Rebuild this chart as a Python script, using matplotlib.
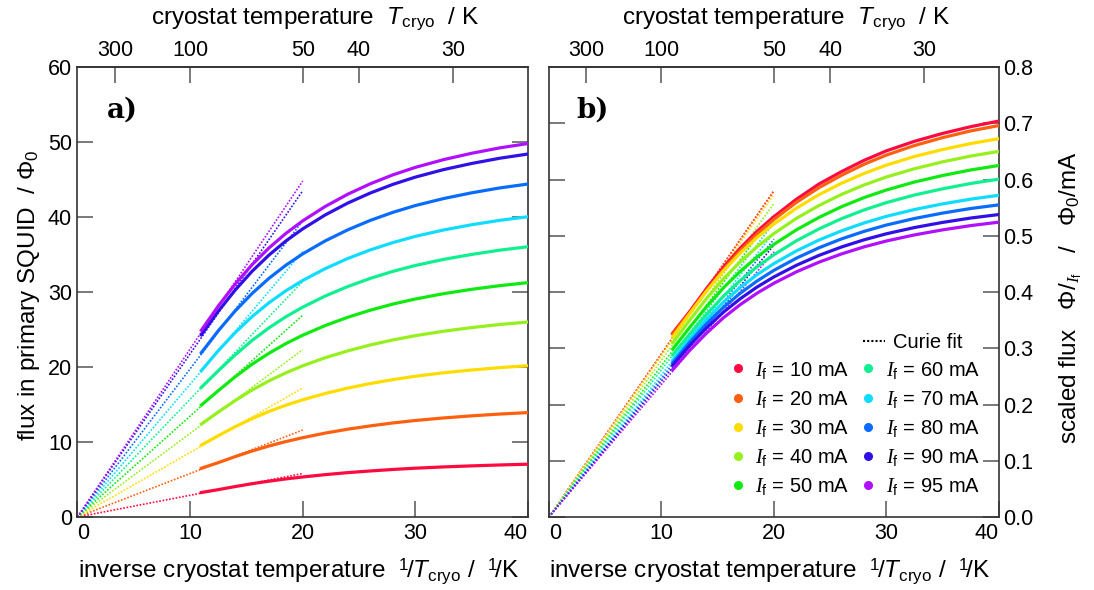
import numpy as np
import matplotlib
matplotlib.use('Agg')
import matplotlib.pyplot as plt
from matplotlib.lines import Line2D

# 字体: 正文无衬线, 公式里的斜体用衬线
plt.rcParams['font.family'] = ['Liberation Sans', 'DejaVu Sans']
plt.rcParams['mathtext.fontset'] = 'custom'
plt.rcParams['mathtext.rm'] = 'Liberation Sans'
plt.rcParams['mathtext.it'] = 'Liberation Serif:italic'
plt.rcParams['mathtext.sf'] = 'Liberation Sans:italic'
plt.rcParams['mathtext.bf'] = 'Liberation Sans:bold'

# 数据
currents_mA = [10, 20, 30, 40, 50, 60, 70, 80, 90, 95]
colors = ['#ff0a40', '#ff6010', '#ffdc00', '#96f01e', '#10ea10',
          '#10f090', '#10dcff', '#0a6cff', '#3010e6', '#b010ff']
inv_T = [11, 12.5, 14, 15.5, 17, 18.5, 20, 22, 24, 26, 28, 30, 32.5, 35, 37.5, 40]
flux = [
    [3.27, 3.65, 4.06, 4.44, 4.78, 5.08, 5.34, 5.65, 5.92, 6.14, 6.34, 6.51, 6.68, 6.82, 6.94, 7.04],
    [6.50, 7.25, 8.05, 8.80, 9.47, 10.06, 10.58, 11.19, 11.71, 12.15, 12.54, 12.87, 13.21, 13.49, 13.73, 13.92],
    [9.60, 10.84, 12.04, 13.12, 14.07, 14.91, 15.63, 16.47, 17.19, 17.80, 18.32, 18.77, 19.23, 19.60, 19.92, 20.18],
    [12.40, 13.99, 15.53, 16.93, 18.15, 19.22, 20.16, 21.24, 22.15, 22.94, 23.61, 24.18, 24.77, 25.26, 25.67, 26.00],
    [14.93, 16.84, 18.69, 20.37, 21.83, 23.12, 24.24, 25.53, 26.63, 27.58, 28.39, 29.07, 29.78, 30.36, 30.85, 31.25],
    [17.29, 19.49, 21.61, 23.54, 25.22, 26.70, 27.98, 29.47, 30.73, 31.82, 32.75, 33.54, 34.35, 35.01, 35.58, 36.04],
    [19.51, 22.17, 24.58, 26.72, 28.56, 30.16, 31.54, 33.12, 34.47, 35.61, 36.59, 37.42, 38.27, 38.97, 39.56, 40.04],
    [21.91, 24.83, 27.47, 29.80, 31.82, 33.57, 35.09, 36.82, 38.29, 39.55, 40.62, 41.53, 42.46, 43.23, 43.88, 44.40],
    [24.30, 27.43, 30.25, 32.76, 34.92, 36.80, 38.42, 40.28, 41.86, 43.20, 44.35, 45.32, 46.32, 47.14, 47.84, 48.40],
    [24.90, 28.13, 31.05, 33.64, 35.87, 37.81, 39.49, 41.41, 43.04, 44.43, 45.62, 46.62, 47.65, 48.50, 49.22, 49.80],
]
# Curie-Fit: Gerade durch Ursprung bis 1/T = 20
fit_x = [0, 20]
fit_at_20 = [5.8, 11.6, 17.2, 22.3, 26.9, 31.4, 35.4, 39.5, 43.5, 44.8]
T_top = [300, 100, 50, 40, 30]

fs = 15.5      # Tick-Beschriftung
fs_lab = 17.5  # Achsentitel
tick_col = '#555555'

fig = plt.figure(figsize=(10.94, 5.90), dpi=100)
ax_a = fig.add_axes([0.0708, 0.1237, 0.4118, 0.7627])
ax_b = fig.add_axes([0.5018, 0.1237, 0.4113, 0.7627])


def style(ax, right_labels):
    ax.set_xlim(0, 40)
    ax.set_xticks([0, 10, 20, 30, 40])
    ax.tick_params(direction='in', length=11.5, width=1.1, color=tick_col,
                   labelsize=fs, left=True, right=True, top=False,
                   labelleft=not right_labels, labelright=right_labels, pad=4)
    for s in ax.spines.values():
        s.set_color('#333333')
        s.set_linewidth(1.2)
    lbls = ax.get_xticklabels()
    lbls[0].set_ha('left')
    lbls[-1].set_ha('right')
    top = ax.secondary_xaxis('top', functions=(lambda x: x, lambda x: x))
    top.set_xticks([1000 / t for t in T_top], [str(t) for t in T_top])
    top.tick_params(direction='in', length=11.5, width=1.1, color=tick_col,
                    labelsize=fs, pad=4)
    top.spines['top'].set_color('#333333')
    top.spines['top'].set_linewidth(1.2)
    ax.text(0.527, 1.108, r'cryostat temperature  $\mathsf{T}_\mathrm{cryo}$  / K',
            transform=ax.transAxes, ha='center', va='center', fontsize=fs_lab)
    ax.text(0.49, -0.12,
            r'inverse cryostat temperature  $^{1}\!/\mathsf{T}_\mathrm{cryo}$ /  $^{1}\!/\mathrm{K}$',
            transform=ax.transAxes, ha='center', va='center', fontsize=fs_lab)


# a) Fluss
for i, c in enumerate(colors):
    ax_a.plot(fit_x, [0, fit_at_20[i]], ls=(0, (1, 1)), lw=1.2, color=c, zorder=2)
for i, c in enumerate(colors):
    ax_a.plot(inv_T, flux[i], lw=2.3, color=c, zorder=3)
ax_a.set_ylim(0, 60)
ax_a.set_yticks(range(0, 61, 10))
style(ax_a, False)
ax_a.text(-0.108, 0.493, r'flux in primary SQUID  / $\Phi_0$', rotation=90,
          transform=ax_a.transAxes, ha='center', va='center', fontsize=fs_lab)
ax_a.text(0.066, 0.905, 'a)', transform=ax_a.transAxes, ha='left', va='center',
          fontsize=20, fontweight='bold', family='DejaVu Serif')

# b) skalierter Fluss
for i, c in enumerate(colors):
    ax_b.plot(fit_x, [0, fit_at_20[i] / currents_mA[i]], ls=(0, (1, 1)), lw=1.2,
              color=c, zorder=2)
for i, c in enumerate(colors):
    ax_b.plot(inv_T, np.array(flux[i]) / currents_mA[i], lw=2.3, color=c, zorder=3)
ax_b.set_ylim(0, 0.8)
ax_b.set_yticks(np.arange(0, 0.81, 0.1))
ax_b.set_yticklabels([f'{v:.1f}' for v in np.arange(0, 0.81, 0.1)])
style(ax_b, True)
ax_b.tick_params(axis='y', pad=3)
ax_b.text(1.16, 0.487,
          r'scaled flux   $\Phi/_{I_\mathrm{f}}$   /   $\Phi_0/\mathrm{mA}$',
          rotation=90, transform=ax_b.transAxes, ha='center', va='center',
          fontsize=fs_lab)
ax_b.text(0.062, 0.905, 'b)', transform=ax_b.transAxes, ha='left', va='center',
          fontsize=20, fontweight='bold', family='DejaVu Serif')

# Legenden
handles = [Line2D([], [], ls='none', marker='o', ms=5.5, color=c) for c in colors]
labels = [rf'$I_\mathrm{{f}}$ = {m} mA' for m in currents_mA]
leg = ax_b.legend(handles, labels, ncol=2, loc='upper left',
                  bbox_to_anchor=(0.402, 0.350), frameon=False, fontsize=14.5,
                  borderpad=0, borderaxespad=0, handlelength=0.8,
                  handletextpad=0.45, columnspacing=0.55, labelspacing=0.4)
ax_b.add_artist(leg)
fit_handle = Line2D([], [], ls=(0, (1, 1)), lw=1.5, color='black')
ax_b.legend([fit_handle], ['Curie fit'], loc='upper left',
            bbox_to_anchor=(0.698, 0.408), frameon=False, fontsize=14.5,
            borderpad=0, borderaxespad=0, handlelength=1.1, handletextpad=0.4)

fig.savefig('out.png', dpi=100)
